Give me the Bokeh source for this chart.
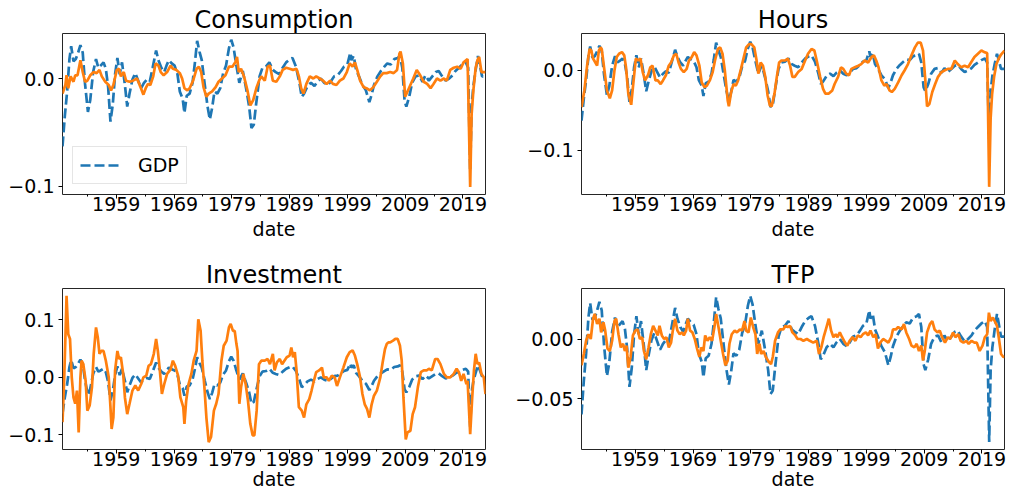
from bokeh.plotting import figure
from bokeh.layouts import column, row
from bokeh.models import Range1d, FixedTicker, CustomJSTickFormatter, Legend, LegendItem
from bokeh.embed import file_html
from bokeh.resources import INLINE

# ---------------- data ----------------
GDP_T = [1949.7, 1950.1, 1950.5, 1950.9, 1951.2, 1951.6, 1952.0, 1952.4, 1952.8, 1953.2, 1953.6, 1954.1,
         1954.5, 1955.0, 1955.5, 1955.9, 1956.3, 1956.8, 1957.2, 1957.6, 1958.0, 1958.4, 1958.8, 1959.2,
         1959.6, 1960.0, 1960.5, 1960.9, 1961.3, 1961.8, 1962.3, 1962.8, 1963.3, 1963.8, 1964.3, 1964.8,
         1965.3, 1965.9, 1966.3, 1966.8, 1967.3, 1967.7, 1968.1, 1968.6, 1969.1, 1969.6, 1970.0, 1970.5,
         1970.8, 1971.2, 1971.7, 1972.2, 1972.6, 1973.0, 1973.4, 1973.8, 1974.3, 1974.8, 1975.2, 1975.6,
         1976.0, 1976.5, 1977.0, 1977.5, 1978.0, 1978.5, 1978.9, 1979.3, 1979.7, 1980.3, 1980.9, 1981.5,
         1982.0, 1982.4, 1982.8, 1983.2, 1983.8, 1984.3, 1984.9, 1985.5, 1986.1, 1986.6, 1987.2, 1987.8,
         1988.4, 1989.1, 1989.5, 1990.1, 1990.7, 1991.1, 1991.5, 1992.1, 1992.7, 1993.3, 1993.8, 1994.4,
         1995.0, 1995.6, 1996.1, 1996.7, 1997.3, 1997.9, 1998.4, 1999.0, 1999.5, 1999.7, 2000.1, 2000.5,
         2001.0, 2001.6, 2002.2, 2002.8, 2003.2, 2003.6, 2004.2, 2004.8, 2005.4, 2005.9, 2006.5, 2007.1,
         2007.7, 2008.1, 2008.5, 2008.9, 2009.2, 2009.7, 2010.2, 2010.8, 2011.4, 2012.0, 2012.5, 2013.1,
         2013.7, 2014.3, 2014.8, 2015.4, 2016.0, 2016.6, 2017.2, 2017.7, 2018.3, 2018.9, 2019.5, 2019.9,
         2020.25, 2020.5, 2020.8, 2021.2, 2021.6, 2021.9, 2022.3, 2022.9]
GDP_V = [-0.063, -0.035, -0.012, 0.018, 0.030, 0.016, 0.018, 0.024, 0.031, 0.024, -0.005, -0.031,
         -0.020, 0.006, 0.018, 0.010, 0.012, 0.015, 0.009, -0.008, -0.040, -0.024, 0.004, 0.019,
         0.004, 0.015, -0.006, -0.026, -0.014, -0.001, 0.005, -0.002, -0.009, -0.004, -0.001, -0.003,
         0.010, 0.026, 0.017, 0.010, 0.006, 0.012, 0.017, 0.014, 0.012, 0.004, -0.012, -0.019,
         -0.032, -0.016, -0.014, -0.004, 0.014, 0.035, 0.025, 0.017, -0.005, -0.026, -0.038, -0.027,
         -0.012, -0.014, -0.009, 0.005, 0.012, 0.028, 0.036, 0.029, 0.015, -0.004, 0.007, -0.010,
         -0.026, -0.046, -0.043, -0.024, 0.002, 0.010, 0.011, 0.015, 0.008, 0.006, 0.004, 0.010,
         0.015, 0.018, 0.019, 0.011, -0.004, -0.017, -0.014, -0.007, -0.004, -0.007, -0.003, 0.000,
         -0.004, -0.006, -0.003, 0.002, 0.003, 0.007, 0.011, 0.013, 0.024, 0.017, 0.021, 0.008,
         0.002, -0.006, -0.011, -0.022, -0.015, -0.006, 0.002, 0.007, 0.011, 0.014, 0.013, 0.018,
         0.019, 0.021, 0.010, -0.021, -0.026, -0.017, -0.004, 0.002, 0.003, -0.003, 0.003, -0.002,
         0.002, 0.006, 0.007, 0.002, -0.002, 0.000, 0.003, 0.007, 0.010, 0.013, 0.015, 0.010,
         -0.086, -0.026, -0.007, 0.008, 0.021, 0.013, 0.002, 0.002]

CONS_T = [1949.7, 1950.2, 1950.4, 1950.7, 1951.1, 1951.6, 1951.9, 1952.3, 1952.8, 1953.2, 1953.6, 1954.0,
          1954.5, 1955.1, 1955.6, 1956.1, 1956.5, 1957.1, 1957.7, 1958.1, 1958.5, 1959.1, 1959.5, 1959.8,
          1960.3, 1960.7, 1961.3, 1961.9, 1962.6, 1963.2, 1963.7, 1964.1, 1964.5, 1964.9, 1965.4, 1965.8,
          1966.3, 1966.7, 1967.2, 1967.8, 1968.4, 1968.8, 1969.4, 1970.0, 1970.4, 1970.8, 1971.3, 1971.7,
          1972.3, 1972.9, 1973.3, 1973.7, 1974.1, 1974.6, 1975.0, 1975.6, 1976.2, 1976.7, 1977.3, 1977.9,
          1978.5, 1979.1, 1979.6, 1979.9, 1980.2, 1980.6, 1981.1, 1981.7, 1982.2, 1982.7, 1983.3, 1983.8,
          1984.1, 1984.7, 1985.2, 1985.6, 1986.1, 1986.7, 1987.3, 1987.8, 1988.4, 1989.0, 1989.6, 1990.2,
          1990.6, 1991.0, 1991.4, 1991.9, 1992.5, 1993.1, 1993.6, 1994.2, 1994.8, 1995.4, 1996.0, 1996.5,
          1997.1, 1997.7, 1998.3, 1998.9, 1999.4, 1999.9, 2000.3, 2000.7, 2001.2, 2001.8, 2002.3, 2002.9,
          2003.5, 2004.1, 2004.7, 2005.2, 2005.8, 2006.4, 2007.0, 2007.6, 2008.0, 2008.2, 2008.6, 2009.0,
          2009.4, 2009.9, 2010.4, 2011.0, 2011.6, 2012.2, 2012.8, 2013.4, 2013.9, 2014.5, 2015.1, 2015.7,
          2016.2, 2016.8, 2017.4, 2018.0, 2018.6, 2019.1, 2019.8, 2020.25, 2020.5, 2020.8, 2021.2, 2021.5,
          2021.8, 2022.2, 2022.9]
CONS_V = [-0.014, -0.006, 0.003, -0.009, 0.002, -0.003, 0.003, 0.003, 0.017, 0.006, -0.003, -0.002,
          0.003, 0.006, 0.005, 0.008, 0.002, -0.003, -0.006, -0.011, -0.006, 0.008, 0.009, 0.002,
          0.006, -0.002, -0.003, -0.002, 0.000, -0.008, -0.015, -0.009, -0.005, -0.006, 0.002, 0.014,
          0.012, 0.006, 0.003, 0.006, 0.012, 0.009, 0.008, 0.005, 0.000, -0.009, -0.011, -0.009,
          -0.002, 0.009, 0.011, 0.006, -0.008, -0.017, -0.014, -0.012, -0.008, -0.003, 0.000, 0.003,
          0.011, 0.011, 0.015, 0.020, 0.006, 0.009, 0.002, -0.011, -0.025, -0.020, -0.008, -0.001,
          0.002, -0.002, 0.011, 0.012, -0.002, -0.003, 0.002, 0.008, 0.010, 0.009, 0.008, 0.009,
          0.002, -0.009, -0.014, -0.005, 0.002, 0.000, 0.002, 0.000, -0.002, -0.005, -0.002, -0.005,
          -0.006, -0.002, 0.000, 0.006, 0.014, 0.011, 0.015, 0.008, -0.002, -0.008, -0.009, -0.011,
          -0.008, -0.003, 0.002, 0.005, 0.005, 0.006, 0.005, 0.008, 0.023, 0.025, 0.014, -0.017,
          -0.012, -0.006, 0.000, 0.008, 0.003, -0.003, -0.005, -0.009, -0.005, 0.000, -0.002, 0.000,
          -0.002, 0.008, 0.010, 0.011, 0.009, 0.015, 0.018, -0.1006, -0.033, -0.011, 0.010, 0.017,
          0.020, 0.006, 0.006]

HOURS_T = [1949.7, 1950.2, 1950.7, 1951.1, 1951.4, 1951.7, 1952.1, 1952.4, 1952.7, 1953.0, 1953.2, 1953.6,
           1954.1, 1954.6, 1955.0, 1955.4, 1955.8, 1956.2, 1956.7, 1957.1, 1957.4, 1957.8, 1958.3, 1958.6,
           1959.1, 1959.5, 1959.9, 1960.3, 1960.7, 1961.2, 1961.6, 1962.0, 1962.5, 1962.9, 1963.4, 1963.8,
           1964.3, 1964.8, 1965.2, 1965.7, 1966.1, 1966.5, 1966.9, 1967.4, 1967.9, 1968.3, 1968.8, 1969.2,
           1969.6, 1970.1, 1970.5, 1971.0, 1971.4, 1971.9, 1972.4, 1972.8, 1973.3, 1973.7, 1974.1, 1974.5,
           1975.0, 1975.2, 1975.6, 1976.0, 1976.4, 1976.8, 1977.3, 1977.8, 1978.2, 1978.7, 1979.1, 1979.6,
           1980.0, 1980.3, 1980.7, 1981.1, 1981.5, 1981.9, 1982.3, 1982.6, 1983.1, 1983.5, 1983.9, 1984.3,
           1984.9, 1985.4, 1985.8, 1986.2, 1986.6, 1987.2, 1987.8, 1988.4, 1988.9, 1989.5, 1990.0, 1990.4,
           1991.0, 1991.5, 1991.9, 1992.5, 1993.1, 1993.5, 1994.1, 1994.6, 1995.0, 1995.5, 1996.0, 1996.4,
           1997.0, 1997.6, 1998.1, 1998.7, 1999.3, 1999.9, 2000.3, 2000.7, 2001.1, 2001.6, 2002.1, 2002.5,
           2003.0, 2003.4, 2003.9, 2004.5, 2005.1, 2005.6, 2006.2, 2006.8, 2007.4, 2007.9, 2008.4, 2008.8,
           2009.2, 2009.5, 2009.9, 2010.4, 2010.9, 2011.4, 2012.0, 2012.5, 2013.1, 2013.7, 2014.3, 2014.8,
           2015.4, 2016.0, 2016.6, 2017.1, 2017.7, 2018.3, 2018.9, 2019.4, 2019.9, 2020.25, 2020.5, 2020.75,
           2021.1, 2021.5, 2021.9, 2022.3, 2022.9]
HOURS_V = [-0.046, -0.025, 0.008, 0.027, 0.025, 0.015, 0.010, 0.006, 0.025, 0.029, 0.027, 0.004,
           -0.025, -0.035, -0.025, 0.000, 0.017, 0.021, 0.023, 0.019, 0.004, -0.029, -0.043, -0.021,
           0.015, 0.0125, 0.015, -0.002, -0.0125, -0.006, 0.004, 0.006, -0.0125, -0.0125, -0.017, -0.0125,
           -0.006, 0.006, 0.010, 0.019, 0.021, 0.010, 0.002, -0.002, 0.002, 0.0125, 0.017, 0.023,
           0.019, 0.006, -0.015, -0.021, -0.019, -0.0125, -0.002, 0.0125, 0.027, 0.029, 0.021, 0.000,
           -0.0375, -0.045, -0.027, -0.017, -0.019, -0.0125, 0.002, 0.017, 0.029, 0.033, 0.033, 0.029,
           0.0125, -0.004, 0.010, 0.006, -0.008, -0.031, -0.044, -0.045, -0.029, -0.008, 0.010, 0.0125,
           0.0125, 0.015, 0.006, -0.008, -0.008, -0.002, 0.002, 0.0125, 0.021, 0.027, 0.025, 0.0125,
           -0.008, -0.023, -0.029, -0.029, -0.025, -0.017, -0.008, 0.004, 0.002, -0.004, -0.006, 0.002,
           0.004, 0.006, 0.008, 0.0125, 0.010, 0.017, 0.019, 0.0125, 0.004, -0.0125, -0.019, -0.017,
           -0.025, -0.027, -0.023, -0.015, -0.006, 0.000, 0.008, 0.019, 0.029, 0.035, 0.035, 0.025,
           -0.0125, -0.045, -0.042, -0.027, -0.017, -0.008, -0.002, 0.000, 0.002, 0.002, 0.0125, 0.008,
           0.004, 0.006, 0.004, 0.010, 0.017, 0.021, 0.025, 0.023, 0.022, -0.146, -0.060, -0.030,
           -0.008, 0.008, 0.015, 0.020, 0.025]

INV_T = [1949.7, 1950.0, 1950.3, 1950.4, 1950.7, 1951.0, 1951.3, 1951.6, 1951.9, 1952.2, 1952.5, 1952.8,
         1953.0, 1953.3, 1953.7, 1954.0, 1954.4, 1954.8, 1955.1, 1955.5, 1955.8, 1956.1, 1956.4, 1956.8,
         1957.2, 1957.7, 1958.0, 1958.2, 1958.5, 1958.8, 1959.2, 1959.5, 1959.8, 1960.2, 1960.5, 1960.9,
         1961.3, 1961.8, 1962.3, 1962.8, 1963.3, 1963.7, 1964.2, 1964.6, 1965.0, 1965.5, 1965.9, 1966.2,
         1966.5, 1966.9, 1967.3, 1967.8, 1968.4, 1968.8, 1969.2, 1969.7, 1970.1, 1970.6, 1970.8, 1971.1,
         1971.5, 1972.0, 1972.4, 1972.9, 1973.2, 1973.6, 1973.9, 1974.3, 1974.6, 1975.0, 1975.4, 1975.9,
         1976.3, 1976.7, 1977.2, 1977.6, 1978.1, 1978.5, 1978.8, 1979.2, 1979.5, 1979.8, 1980.0, 1980.3,
         1980.6, 1981.0, 1981.4, 1981.8, 1982.2, 1982.6, 1982.9, 1983.3, 1983.7, 1984.1, 1984.7, 1985.2,
         1985.6, 1986.1, 1986.4, 1986.8, 1987.3, 1987.7, 1988.1, 1988.5, 1989.0, 1989.3, 1989.6, 1989.9,
         1990.2, 1990.6, 1991.1, 1991.5, 1991.9, 1992.4, 1992.8, 1993.2, 1993.6, 1994.1, 1994.6, 1994.9,
         1995.4, 1995.8, 1996.3, 1996.8, 1997.2, 1997.7, 1998.3, 1998.9, 1999.4, 1999.9, 2000.3, 2000.7,
         2001.2, 2001.6, 2002.0, 2002.4, 2002.8, 2003.2, 2003.6, 2004.1, 2004.7, 2005.1, 2005.5, 2005.8,
         2006.1, 2006.4, 2006.9, 2007.3, 2007.7, 2008.1, 2008.4, 2008.7, 2009.1, 2009.4, 2009.9, 2010.3,
         2010.7, 2011.2, 2011.7, 2012.2, 2012.7, 2013.1, 2013.6, 2014.2, 2014.6, 2015.1, 2015.7, 2016.2,
         2016.8, 2017.4, 2017.9, 2018.3, 2018.7, 2019.1, 2019.6, 2019.8, 2020.25, 2020.6, 2020.9, 2021.2,
         2021.5, 2021.8, 2022.2, 2022.6, 2022.9]
INV_V = [-0.078, 0.000, 0.104, 0.142, 0.075, 0.067, 0.000, -0.035, -0.046, -0.023, -0.096, 0.000,
         0.029, 0.023, -0.006, -0.058, -0.049, -0.017, 0.041, 0.087, 0.070, 0.041, 0.046, 0.046,
         0.029, 0.000, -0.052, -0.090, -0.070, 0.012, 0.046, 0.032, 0.035, 0.006, -0.035, -0.064,
         -0.046, -0.023, -0.014, -0.023, -0.012, 0.000, 0.003, 0.020, 0.023, 0.041, 0.067, 0.046,
         0.017, -0.029, -0.012, 0.006, 0.014, 0.029, 0.020, 0.003, -0.035, -0.052, -0.081, -0.041,
         -0.012, 0.006, 0.029, 0.046, 0.101, 0.081, 0.029, -0.023, -0.070, -0.113, -0.104, -0.058,
         -0.046, -0.029, 0.029, 0.055, 0.064, 0.087, 0.093, 0.081, 0.081, 0.058, 0.046, -0.046,
         -0.017, 0.006, -0.012, -0.041, -0.081, -0.101, -0.101, -0.058, 0.023, 0.029, 0.029, 0.032,
         0.023, 0.041, 0.012, 0.026, 0.032, 0.023, 0.029, 0.035, 0.038, 0.052, 0.035, 0.044,
         0.012, -0.052, -0.058, -0.070, -0.047, -0.038, -0.023, -0.006, 0.009, 0.012, 0.017, 0.000,
         0.000, -0.006, 0.003, 0.000, -0.015, 0.000, 0.017, 0.035, 0.044, 0.047, 0.038, 0.023,
         0.000, -0.029, -0.047, -0.055, -0.070, -0.047, -0.032, -0.023, 0.000, 0.026, 0.049, 0.058,
         0.061, 0.061, 0.064, 0.067, 0.067, 0.055, 0.029, -0.035, -0.108, -0.096, -0.093, -0.064,
         -0.052, -0.017, 0.009, 0.012, 0.012, 0.015, 0.012, 0.032, 0.032, 0.023, 0.006, 0.000,
         0.000, 0.006, 0.015, 0.009, -0.006, 0.006, -0.012, -0.006, -0.099, -0.035, 0.012, 0.041,
         0.023, 0.026, 0.006, 0.000, -0.029]

TFP_T = [1949.7, 1950.1, 1950.5, 1950.9, 1951.3, 1951.7, 1952.0, 1952.4, 1952.8, 1953.1, 1953.5, 1953.8,
         1954.2, 1954.6, 1955.0, 1955.4, 1955.7, 1956.1, 1956.5, 1956.9, 1957.2, 1957.5, 1957.8, 1958.2,
         1958.6, 1959.0, 1959.4, 1959.8, 1960.2, 1960.5, 1960.9, 1961.3, 1961.7, 1962.1, 1962.5, 1962.9,
         1963.2, 1963.6, 1964.0, 1964.4, 1964.8, 1965.2, 1965.5, 1965.9, 1966.3, 1966.7, 1967.1, 1967.4,
         1967.8, 1968.1, 1968.5, 1968.9, 1969.3, 1969.7, 1970.1, 1970.4, 1970.8, 1971.1, 1971.5, 1971.9,
         1972.3, 1972.7, 1973.0, 1973.4, 1973.8, 1974.2, 1974.6, 1975.0, 1975.3, 1975.7, 1976.2, 1976.6,
         1977.1, 1977.5, 1977.9, 1978.2, 1978.6, 1979.0, 1979.4, 1979.8, 1980.1, 1980.5, 1980.8, 1981.2,
         1981.6, 1982.1, 1982.5, 1982.8, 1983.2, 1983.7, 1984.1, 1984.6, 1985.0, 1985.4, 1985.8, 1986.2,
         1986.7, 1987.1, 1987.6, 1988.1, 1988.7, 1989.2, 1989.8, 1990.4, 1990.8, 1991.2, 1991.6, 1992.1,
         1992.5, 1992.9, 1993.3, 1993.7, 1994.0, 1994.4, 1994.8, 1995.3, 1995.7, 1996.1, 1996.6, 1997.1,
         1997.5, 1998.0, 1998.4, 1998.9, 1999.3, 1999.7, 2000.2, 2000.6, 2001.0, 2001.4, 2001.9, 2002.4,
         2002.8, 2003.3, 2003.6, 2004.1, 2004.5, 2005.1, 2005.5, 2005.9, 2006.4, 2006.8, 2007.3, 2007.7,
         2008.1, 2008.5, 2008.8, 2009.1, 2009.5, 2010.0, 2010.4, 2010.8, 2011.3, 2011.7, 2012.1, 2012.6,
         2013.1, 2013.5, 2014.0, 2014.4, 2014.9, 2015.3, 2015.8, 2016.3, 2016.7, 2017.2, 2017.7, 2018.1,
         2018.6, 2019.1, 2019.5, 2019.9, 2020.2, 2020.5, 2020.9, 2021.3, 2021.6, 2021.9, 2022.3, 2022.7,
         2022.9]
TFP_V = [-0.022, -0.0125, -0.0015, 0.004, 0.000, 0.017, 0.021, 0.0125, 0.017, 0.0055, 0.014, 0.007,
         -0.008, -0.010, -0.0015, 0.015, 0.017, 0.004, -0.007, -0.004, -0.010, -0.0055, -0.024, -0.015,
         0.003, 0.007, 0.008, 0.000, 0.0015, -0.010, -0.017, -0.007, 0.004, 0.011, 0.007, 0.003,
         0.011, 0.003, 0.000, 0.0015, -0.007, -0.003, 0.007, 0.017, 0.007, 0.004, 0.0055, 0.003,
         0.007, 0.017, 0.007, 0.0055, 0.000, -0.008, -0.015, -0.007, -0.010, 0.003, -0.0015, 0.0015,
         -0.0015, 0.010, 0.021, 0.010, -0.0015, -0.0125, -0.022, -0.018, -0.004, 0.004, 0.007, 0.0055,
         0.008, 0.007, 0.015, 0.007, 0.0055, 0.018, 0.010, 0.004, -0.0125, -0.004, -0.0125, -0.010,
         -0.015, -0.019, -0.021, -0.015, -0.0015, 0.0055, 0.008, 0.008, 0.011, 0.010, 0.011, 0.0055,
         0.003, 0.000, 0.000, -0.0015, 0.000, -0.0015, -0.003, -0.0015, -0.0125, -0.007, 0.0015, 0.010,
         0.017, 0.007, 0.0015, 0.004, 0.0015, 0.0055, 0.0015, -0.003, -0.0055, -0.0015, 0.0015, -0.0015,
         0.003, 0.0015, 0.004, 0.0055, 0.003, 0.007, 0.0015, 0.004, -0.008, -0.003, 0.000, -0.0015,
         -0.003, 0.0015, 0.008, 0.008, 0.010, 0.008, 0.0125, 0.0055, 0.000, -0.0055, -0.007, -0.004,
         -0.010, -0.0055, -0.018, -0.010, 0.0055, 0.0125, 0.015, 0.008, 0.0055, 0.007, 0.0015, -0.003,
         0.0015, 0.000, 0.0055, 0.0015, 0.004, -0.0015, -0.003, -0.0015, -0.004, -0.0015, -0.003, -0.003,
         -0.010, -0.0055, 0.0015, 0.004, 0.022, 0.015, 0.018, 0.014, 0.011, 0.0015, -0.0125, -0.015,
         -0.015]

TITLES = ["Consumption", "Hours", "Investment", "TFP"]
X_START, X_END = 1949.7, 2022.9
XTICKS = [1959, 1969, 1979, 1989, 1999, 2009, 2019]
XTICK_LABELS = ["1959", "1969", "1979", "1989", "1999", "2009", "2019"]
XMINOR = [1954, 1964, 1974, 1984, 1994, 2004, 2014]
X_LABEL = "date"
LEGEND_LABEL = "GDP"

CONS_YTICKS, CONS_YLABELS, CONS_YLIM = [-0.1, 0.0], ["\u22120.1", "0.0"], (-0.1077, 0.0418)
HOURS_YTICKS, HOURS_YLABELS, HOURS_YLIM = [-0.1, 0.0], ["\u22120.1", "0.0"], (-0.1556, 0.0464)
INV_YTICKS, INV_YLABELS, INV_YLIM = [-0.1, 0.0, 0.1], ["\u22120.1", "0.0", "0.1"], (-0.1257, 0.1548)
TFP_YTICKS, TFP_YLABELS, TFP_YLIM = [-0.05, 0.0], ["\u22120.05", "0.00"], (-0.0923, 0.0422)

BLUE = "#1f77b4"
ORANGE = "#ff7f0e"
FONT = "DejaVu Sans"

LABEL_JS = """
let best = 0; let d = Infinity;
for (let i = 0; i < vals.length; i++) {
  const e = Math.abs(vals[i] - tick);
  if (e < d) { d = e; best = i; }
}
return labs[best];
"""


def make_panel(title, t, v, yticks, ylabels, ylim, width, height, bl, br, bt, bb,
               xlabel_standoff, legend=False):
    p = figure(width=width, height=height, output_backend="svg", toolbar_location=None,
               x_range=Range1d(X_START, X_END), y_range=Range1d(*ylim),
               min_border_left=bl, min_border_right=br, min_border_top=bt, min_border_bottom=bb)
    p.title.text = title
    p.title.align = "center"
    p.title.text_font = FONT
    p.title.text_font_size = "24px"
    p.title.text_font_style = "normal"
    p.title.text_color = "black"
    p.title.standoff = 0
    p.xgrid.visible = False
    p.ygrid.visible = False
    p.outline_line_color = "#262626"
    p.outline_line_width = 1
    p.background_fill_color = "white"
    p.border_fill_color = "white"

    r_gdp = p.line(GDP_T, GDP_V, color=BLUE, line_width=2.7, line_dash="10 4")
    p.line(t, v, color=ORANGE, line_width=2.7)

    for ax in (p.xaxis[0], p.yaxis[0]):
        ax.axis_line_color = None
        ax.major_tick_line_color = "black"
        ax.major_tick_in = 0
        ax.major_tick_out = 4
        ax.minor_tick_in = 0
        ax.major_label_text_font = FONT
        ax.major_label_text_font_size = "19px"
        ax.major_label_text_color = "black"
    p.xaxis.major_label_standoff = -2
    p.yaxis.major_label_standoff = 4
    p.xaxis.ticker = FixedTicker(ticks=XTICKS, minor_ticks=XMINOR)
    p.xaxis.formatter = CustomJSTickFormatter(args=dict(vals=XTICKS, labs=XTICK_LABELS), code=LABEL_JS)
    p.xaxis.minor_tick_out = 2
    p.xaxis.minor_tick_line_color = "black"
    p.xaxis.axis_label = X_LABEL
    p.xaxis.axis_label_text_font = FONT
    p.xaxis.axis_label_text_font_size = "19px"
    p.xaxis.axis_label_text_font_style = "normal"
    p.xaxis.axis_label_text_color = "black"
    p.xaxis.axis_label_standoff = xlabel_standoff
    p.yaxis.ticker = FixedTicker(ticks=yticks, minor_ticks=[])
    p.yaxis.formatter = CustomJSTickFormatter(args=dict(vals=yticks, labs=ylabels), code=LABEL_JS)
    p.yaxis.minor_tick_line_color = None

    if legend:
        lg = Legend(items=[LegendItem(label=LEGEND_LABEL, renderers=[r_gdp])],
                    location="bottom_left", margin=10, padding=7, spacing=0,
                    glyph_width=42, glyph_height=20, label_height=20, label_standoff=16,
                    label_text_font=FONT, label_text_font_size="19px", label_text_color="black",
                    border_line_color="#cccccc", border_line_width=1,
                    background_fill_color="white", background_fill_alpha=0.8)
        p.add_layout(lg)
    return p


p1 = make_panel(TITLES[0], CONS_T, CONS_V, CONS_YTICKS, CONS_YLABELS, CONS_YLIM,
                505, 258, 62, 20, 33, 64, 4, legend=True)
p2 = make_panel(TITLES[1], HOURS_T, HOURS_V, HOURS_YTICKS, HOURS_YLABELS, HOURS_YLIM,
                505, 258, 76, 6, 33, 64, 4)
p3 = make_panel(TITLES[2], INV_T, INV_V, INV_YTICKS, INV_YLABELS, INV_YLIM,
                505, 239, 62, 20, 30, 48, -1)
p4 = make_panel(TITLES[3], TFP_T, TFP_V, TFP_YTICKS, TFP_YLABELS, TFP_YLIM,
                505, 239, 76, 6, 30, 48, -1)

layout = column(row(p1, p2), row(p3, p4))
open("out.html", "w").write(file_html(layout, INLINE))
